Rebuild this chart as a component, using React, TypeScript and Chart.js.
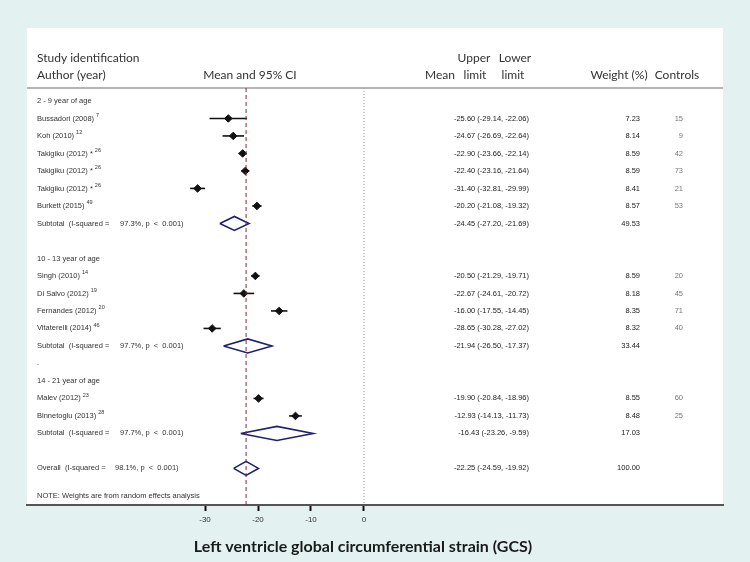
import React, { useEffect, useRef } from "react";
import { Chart, registerables } from "chart.js";

Chart.register(...registerables);

// ---------- data ----------
const groupLabels = ["2 - 9 year of age", "10 - 13 year of age", "14 - 21 year of age"];
const groupRows = [0, 9, 16];

const studyLabels = [
  "Bussadori (2008)", "Koh (2010)", "Takigiku (2012) *", "Takigiku (2012) *", "Takigiku (2012) *",
  "Burkett (2015)", "Singh (2010)", "Di Salvo (2012)", "Fernandes (2012)", "Vitaterelli (2014)",
  "Malev (2012)", "Binnetoglu (2013)",
];
const studyRefs = ["7", "12", "26", "26", "26", "49", "14", "19", "20", "46", "23", "28"];
const studyRows = [1, 2, 3, 4, 5, 6, 10, 11, 12, 13, 17, 18];
const studyMeans = [-25.6, -24.67, -22.9, -22.4, -31.4, -20.2, -20.5, -22.67, -16.0, -28.65, -19.9, -12.93];
const studyLower = [-29.14, -26.69, -23.66, -23.16, -32.81, -21.08, -21.29, -24.61, -17.55, -30.28, -20.84, -14.13];
const studyUpper = [-22.06, -22.64, -22.14, -21.64, -29.99, -19.32, -19.71, -20.72, -14.45, -27.02, -18.96, -11.73];
const studyWeights = [7.23, 8.14, 8.59, 8.59, 8.41, 8.57, 8.59, 8.18, 8.35, 8.32, 8.55, 8.48];
const studyControls = [15, 9, 42, 73, 21, 53, 20, 45, 71, 40, 60, 25];

const pooledLabels = ["Subtotal  (I-squared =", "Subtotal  (I-squared =", "Subtotal  (I-squared =", "Overall  (I-squared ="];
const pooledHetero = ["97.3%, p  <  0.001)", "97.7%, p  <  0.001)", "97.7%, p  <  0.001)", "98.1%, p  <  0.001)"];
const pooledRows = [7, 14, 19, 21];
const pooledMeans = [-24.45, -21.94, -16.43, -22.25];
const pooledLower = [-27.2, -26.5, -23.26, -24.59];
const pooledUpper = [-21.69, -17.37, -9.59, -19.92];
const pooledWeights = [49.53, 33.44, 17.03, 100.0];

const dotRow = 15;
const noteRow = 22.6;
const noteText = "NOTE: Weights are from random effects analysis";

const xTicks = [-30, -20, -10, 0];
const overallMean = -22.25;
const nullValue = 0;

const axisTitle = "Left ventricle global circumferential strain (GCS)";

// ---------- layout ----------
const X_MIN = -63.585;
const X_MAX = 67.736;
const Y_MIN = -0.74;
const Y_MAX = 23.09;
const DIAMOND_HALF = 0.4;

const SMALL = '7.5px "Liberation Sans", Arial, sans-serif';
const SUP = '5.5px "Liberation Sans", Arial, sans-serif';
const HEAD = '12px Lato, "Open Sans", sans-serif';

const fmt = (v: number) => v.toFixed(2);

export default function App() {
  const ref = useRef<HTMLCanvasElement>(null);

  useEffect(() => {
    document.body.style.margin = "0";
    const canvas = ref.current!;

    const datasets: any[] = [];

    // reference lines
    datasets.push({
      data: [{ x: nullValue, y: Y_MIN }, { x: nullValue, y: Y_MAX }],
      showLine: true, borderColor: "#9a9a9a", borderWidth: 1, borderDash: [1, 2], pointRadius: 0,
    });
    datasets.push({
      data: [{ x: overallMean, y: Y_MIN }, { x: overallMean, y: Y_MAX }],
      showLine: true, borderColor: "#8e2438", borderWidth: 1, borderDash: [4, 3], pointRadius: 0,
    });

    // confidence intervals
    studyRows.forEach((r, i) => {
      datasets.push({
        data: [{ x: studyLower[i], y: r }, { x: studyUpper[i], y: r }],
        showLine: true, borderColor: "#111", borderWidth: 1.6, pointRadius: 0,
      });
    });

    // point estimates
    datasets.push({
      data: studyRows.map((r, i) => ({ x: studyMeans[i], y: r })),
      showLine: false, pointStyle: "rectRot", pointRadius: 3.8,
      backgroundColor: "#111", borderColor: "#111", borderWidth: 1,
    });

    // pooled diamonds
    pooledRows.forEach((r, i) => {
      datasets.push({
        data: [
          { x: pooledLower[i], y: r },
          { x: pooledMeans[i], y: r - DIAMOND_HALF },
          { x: pooledUpper[i], y: r },
          { x: pooledMeans[i], y: r + DIAMOND_HALF },
          { x: pooledLower[i], y: r },
        ],
        showLine: true, borderColor: "#1e2070", borderWidth: 1.6, pointRadius: 0, fill: false,
        tension: 0,
      });
    });

    const panelPlugin = {
      id: "panel",
      beforeDraw(chart: any) {
        const { ctx, width, height, chartArea } = chart;
        ctx.save();
        ctx.fillStyle = "#e4f1f1";
        ctx.fillRect(0, 0, width, height);
        ctx.fillStyle = "#ffffff";
        ctx.fillRect(chartArea.left, 28, chartArea.right - chartArea.left, chartArea.bottom - 28);
        ctx.strokeStyle = "#b5b5b5";
        ctx.lineWidth = 2;
        ctx.beginPath();
        ctx.moveTo(chartArea.left, chartArea.top);
        ctx.lineTo(chartArea.right, chartArea.top);
        ctx.stroke();

        // headers
        ctx.fillStyle = "#333";
        ctx.font = HEAD;
        ctx.textBaseline = "middle";
        ctx.textAlign = "left";
        ctx.fillText("Study identification", 37, 58);
        ctx.fillText("Author (year)", 37, 75);
        ctx.textAlign = "center";
        ctx.fillText("Mean and 95% CI", 250, 75);
        ctx.fillText("Upper", 474, 58);
        ctx.fillText("Lower", 515, 58);
        ctx.fillText("Mean", 440, 75);
        ctx.fillText("limit", 475, 75);
        ctx.fillText("limit", 513, 75);
        ctx.fillText("Weight (%)", 619, 75);
        ctx.fillText("Controls", 677, 75);
        ctx.restore();
      },
    };

    const textPlugin = {
      id: "texts",
      afterDraw(chart: any) {
        const { ctx } = chart;
        const ys = chart.scales.y;
        const py = (r: number) => ys.getPixelForValue(r);
        ctx.save();
        ctx.textBaseline = "middle";

        // group headings
        ctx.font = SMALL;
        ctx.fillStyle = "#333";
        ctx.textAlign = "left";
        groupLabels.forEach((g, i) => ctx.fillText(g, 37, py(groupRows[i])));
        ctx.fillText(".", 37, py(dotRow));

        // studies
        studyLabels.forEach((s, i) => {
          const y = py(studyRows[i]);
          ctx.font = SMALL;
          ctx.fillStyle = "#333";
          ctx.textAlign = "left";
          ctx.fillText(s, 37, y);
          const w = ctx.measureText(s).width;
          ctx.font = SUP;
          ctx.fillText(studyRefs[i], 37 + w + 2, y - 3);
          ctx.font = SMALL;
          ctx.fillStyle = "#222";
          ctx.textAlign = "right";
          ctx.fillText(`${fmt(studyMeans[i])} (${fmt(studyLower[i])}, ${fmt(studyUpper[i])})`, 529, y);
          ctx.fillText(fmt(studyWeights[i]), 640, y);
          ctx.fillStyle = "#777";
          ctx.fillText(String(studyControls[i]), 683, y);
        });

        // pooled
        pooledLabels.forEach((s, i) => {
          const y = py(pooledRows[i]);
          ctx.font = SMALL;
          ctx.fillStyle = "#333";
          ctx.textAlign = "left";
          ctx.fillText(s, 37, y);
          ctx.fillText(pooledHetero[i], i === 3 ? 115 : 120, y);
          ctx.fillStyle = "#222";
          ctx.textAlign = "right";
          ctx.fillText(`${fmt(pooledMeans[i])} (${fmt(pooledLower[i])}, ${fmt(pooledUpper[i])})`, 529, y);
          ctx.fillText(fmt(pooledWeights[i]), 640, y);
        });

        ctx.fillStyle = "#333";
        ctx.textAlign = "left";
        ctx.font = SMALL;
        ctx.fillText(noteText, 37, py(noteRow));

        // axis title
        ctx.font = 'bold 16px Lato, "Open Sans", sans-serif';
        ctx.fillStyle = "#1a1a1a";
        ctx.textAlign = "center";
        ctx.fillText(axisTitle, 363, 547);
        ctx.restore();
      },
    };

    const chart = new Chart(canvas, {
      type: "scatter",
      data: { datasets },
      options: {
        responsive: false,
        animation: false,
        devicePixelRatio: 1,
        events: [],
        layout: { padding: { left: 27, right: 27, top: 88, bottom: 0 } },
        plugins: { legend: { display: false }, tooltip: { enabled: false } },
        scales: {
          x: {
            type: "linear",
            min: X_MIN,
            max: X_MAX,
            afterBuildTicks: (s: any) => {
              s.ticks = xTicks.map((v) => ({ value: v }));
            },
            afterFit: (s: any) => {
              s.height = 57;
            },
            grid: { drawOnChartArea: false, drawTicks: true, tickLength: 6, tickWidth: 2, tickColor: "#111" },
            border: { display: true, color: "#555", width: 2 },
            ticks: { font: { size: 8, family: '"Liberation Sans", Arial, sans-serif' }, color: "#333", padding: 4 },
          },
          y: { type: "linear", display: false, min: Y_MIN, max: Y_MAX, reverse: true },
        },
      } as any,
      plugins: [panelPlugin, textPlugin],
    });

    return () => chart.destroy();
  }, []);

  return <canvas ref={ref} width={750} height={562} style={{ display: "block" }} />;
}
